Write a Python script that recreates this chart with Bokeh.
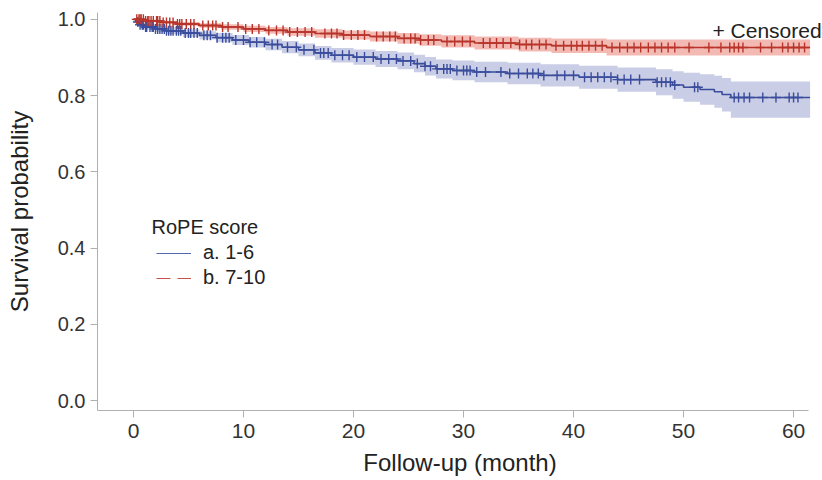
import numpy as np
from bokeh.plotting import figure
from bokeh.models import Range1d, Label, Legend, LegendItem, NumeralTickFormatter
from bokeh.embed import file_html
from bokeh.resources import INLINE

FONT = "Liberation Sans"

# ---- Group a. 1-6 (blue) ----
t_a = [0, 0.2, 0.5, 1.0, 2.0, 3.0, 4.5, 6.0, 7.5, 9.0, 10.5, 12.0, 13.5, 15.0, 16.5, 18.0,
       20.0, 22.0, 24.0, 25.5, 26.5, 27.5, 29.0, 31.0, 34.0, 37.0, 40.5, 44.0, 47.5, 49.0,
       50.0, 51.5, 52.8, 53.5, 54.3]
s_a = [1.000, 0.993, 0.986, 0.980, 0.975, 0.970, 0.964, 0.958, 0.952, 0.946, 0.940, 0.934,
       0.927, 0.920, 0.912, 0.906, 0.901, 0.896, 0.891, 0.884, 0.877, 0.870, 0.866, 0.862,
       0.858, 0.853, 0.848, 0.842, 0.835, 0.828, 0.822, 0.816, 0.810, 0.803, 0.795]
lo_a = [1.000, 0.988, 0.980, 0.973, 0.967, 0.961, 0.954, 0.947, 0.940, 0.933, 0.926, 0.919,
        0.911, 0.903, 0.894, 0.887, 0.881, 0.875, 0.869, 0.861, 0.853, 0.845, 0.840, 0.835,
        0.830, 0.824, 0.818, 0.810, 0.801, 0.792, 0.784, 0.776, 0.768, 0.758, 0.742]
hi_a = [1.000, 0.998, 0.992, 0.987, 0.983, 0.979, 0.974, 0.969, 0.964, 0.959, 0.954, 0.949,
        0.943, 0.937, 0.930, 0.925, 0.921, 0.917, 0.913, 0.907, 0.901, 0.895, 0.892, 0.889,
        0.886, 0.882, 0.878, 0.874, 0.869, 0.864, 0.860, 0.856, 0.852, 0.846, 0.837]
cens_a = [0.4, 0.6, 0.8, 0.9, 1.1, 1.2, 1.5, 1.7, 1.8, 2.0, 2.2, 2.4, 2.6, 2.8, 3.0, 3.2, 3.4,
          3.6, 3.9, 4.1, 4.3, 4.7, 5.0, 5.2, 5.5, 5.8, 6.4, 6.7, 7.0, 7.6, 8.1, 8.4, 8.7, 9.3,
          10.0, 10.6, 11.2, 11.9, 12.6, 13.1, 14.0, 14.8, 15.5, 16.4, 17.0, 17.3, 17.7, 18.3,
          19.0, 19.6, 20.3, 21.0, 21.8, 22.5, 23.2, 23.9, 24.5, 25.2, 25.8, 26.5, 27.0, 27.6,
          28.2, 28.5, 28.8, 29.4, 30.0, 30.3, 30.6, 31.2, 32.0, 33.4, 34.2, 35.0, 35.8, 36.3,
          36.8, 37.3, 38.5, 39.2, 40.0, 41.0, 41.6, 42.2, 42.8, 43.4, 44.0, 44.6, 45.2, 46.0,
          47.6, 48.0, 48.4, 48.8, 49.2, 51.0, 51.3, 54.6, 55.0, 55.5, 56.0, 57.2, 58.4, 59.6,
          60.0, 60.4]

# ---- Group b. 7-10 (red) ----
t_b = [0, 1.0, 2.5, 4.0, 6.0, 8.0, 10.0, 12.0, 14.0, 16.5, 19.0, 21.5, 24.0, 26.0, 28.0,
       31.0, 35.0, 38.0, 43.0]
s_b = [1.000, 0.996, 0.992, 0.988, 0.984, 0.980, 0.975, 0.971, 0.967, 0.963, 0.959, 0.955,
       0.950, 0.946, 0.942, 0.938, 0.934, 0.931, 0.926]
lo_b = [1.000, 0.993, 0.988, 0.983, 0.978, 0.973, 0.967, 0.962, 0.957, 0.952, 0.947, 0.942,
        0.936, 0.931, 0.926, 0.921, 0.916, 0.912, 0.905]
hi_b = [1.000, 0.999, 0.996, 0.993, 0.990, 0.987, 0.983, 0.980, 0.977, 0.974, 0.971, 0.968,
        0.964, 0.961, 0.958, 0.955, 0.952, 0.950, 0.947]
cens_b = [0.3, 0.5, 0.6, 0.7, 0.9, 1.1, 1.3, 1.4, 1.6, 1.8, 2.1, 2.2, 2.4, 2.7, 3.0, 3.3, 3.6,
          4.0, 4.2, 4.4, 4.8, 5.2, 5.5, 6.3, 6.8, 7.2, 7.5, 8.1, 8.6, 9.5, 10.2, 10.8, 11.4,
          12.3, 13.0, 13.6, 14.2, 14.9, 15.6, 16.2, 17.4, 18.0, 18.5, 19.1, 19.8, 20.4, 21.0,
          22.1, 22.7, 23.3, 23.8, 24.6, 25.2, 25.6, 26.1, 26.8, 27.3, 28.5, 29.2, 29.9, 30.6,
          31.8, 32.4, 33.0, 33.6, 34.3, 35.1, 35.7, 36.2, 36.9, 37.5, 38.4, 39.1, 39.8, 40.3,
          40.8, 41.4, 42.0, 42.6, 43.5, 44.2, 44.9, 45.5, 46.1, 46.8, 47.4, 48.0, 48.6, 49.2,
          50.5, 52.3, 53.4, 54.2, 54.6, 55.0, 55.4, 57.0, 58.0, 59.0, 59.5, 60.0, 60.5, 61.0]

END_TIME = 61.5
x_ticks = [0, 10, 20, 30, 40, 50, 60]
y_ticks = [0.0, 0.2, 0.4, 0.6, 0.8, 1.0]
group_labels = ["a. 1-6", "b. 7-10"]
legend_title = "RoPE score"

BLUE = "#3a4c9c"
RED = "#b8342b"
BLUE_BAND = "#c3c8e2"
RED_BAND = "#f2b2ac"

X_AXIS_START, X_AXIS_END = -3.27, 61.36

p = figure(width=822, height=480, output_backend="svg", toolbar_location=None,
           x_range=Range1d(X_AXIS_START, 62.63), y_range=Range1d(-0.026, 1.018),
           min_border_left=97, min_border_right=0, min_border_top=12, min_border_bottom=70)
p.outline_line_color = None
p.xgrid.visible = False
p.ygrid.visible = False


def ext(t, v):
    return list(t) + [END_TIME], list(v) + [v[-1]]


# confidence bands
for t, lo, hi, col in [(t_a, lo_a, hi_a, BLUE_BAND), (t_b, lo_b, hi_b, RED_BAND)]:
    x, y1 = ext(t, lo)
    _, y2 = ext(t, hi)
    p.varea_step(x=x, y1=y1, y2=y2, step_mode="after", fill_color=col, fill_alpha=0.9)

# survival curves + censor marks
for t, s, cens, col in [(t_a, s_a, cens_a, BLUE), (t_b, s_b, cens_b, RED)]:
    x, y = ext(t, s)
    p.step(x=x, y=y, mode="after", line_color=col, line_width=1.6)
    idx = np.searchsorted(np.array(t), np.array(cens), side="right") - 1
    cy = np.array(s)[idx]
    p.scatter(x=cens, y=cy, marker="cross", size=10, line_color=col, line_width=1.4)

# legend (placeholder renderers with no visible data)
r1 = p.line(x=[np.nan, np.nan], y=[np.nan, np.nan], line_color=BLUE, line_width=1.1,
            line_alpha=0.85)
r2 = p.line(x=[np.nan, np.nan], y=[np.nan, np.nan], line_color=RED, line_width=1.1,
            line_alpha=0.85, line_dash="14 7")
legend = Legend(items=[LegendItem(label=group_labels[0], renderers=[r1]),
                       LegendItem(label=group_labels[1], renderers=[r2])],
                location=(59, 121), padding=0, margin=0, spacing=2,
                glyph_width=35, glyph_height=20, label_height=20, label_standoff=12,
                label_text_font=FONT, label_text_font_size="20px", label_text_color="#222222",
                border_line_color=None, background_fill_alpha=0)
p.add_layout(legend)

p.add_layout(Label(x=1.64, y=0.456, text=legend_title, text_font=FONT, text_font_size="20px",
                   text_color="#222222", text_baseline="middle", text_align="left"))
p.add_layout(Label(x=62.55, y=0.971, text="+ Censored",
                   text_font=FONT, text_font_size="21px", text_color="#222222",
                   text_baseline="middle", text_align="right"))

for ax in (p.xaxis[0], p.yaxis[0]):
    ax.axis_line_color = "#b0b0b0"
    ax.major_tick_line_color = "#b0b0b0"
    ax.minor_tick_line_color = None
    ax.major_tick_out = 7
    ax.major_tick_in = 0
    ax.major_label_text_font = FONT
    ax.major_label_text_color = "#333333"
    ax.axis_label_text_font = FONT
    ax.axis_label_text_font_style = "normal"
    ax.axis_label_text_color = "#222222"

p.xaxis.bounds = (X_AXIS_START, X_AXIS_END)
p.xaxis.ticker = x_ticks
p.yaxis.ticker = y_ticks
p.yaxis.formatter = NumeralTickFormatter(format="0.0")
p.xaxis.major_label_text_font_size = "21px"
p.yaxis.major_label_text_font_size = "20px"
p.xaxis.axis_label = "Follow-up (month)"
p.yaxis.axis_label = "Survival probability"
p.xaxis.axis_label_text_font_size = "24px"
p.yaxis.axis_label_text_font_size = "24px"
p.xaxis.major_label_standoff = 6
p.xaxis.axis_label_standoff = 8
p.yaxis.major_label_standoff = 5
p.yaxis.axis_label_standoff = 22

open("out.html", "w").write(file_html(p, INLINE))
